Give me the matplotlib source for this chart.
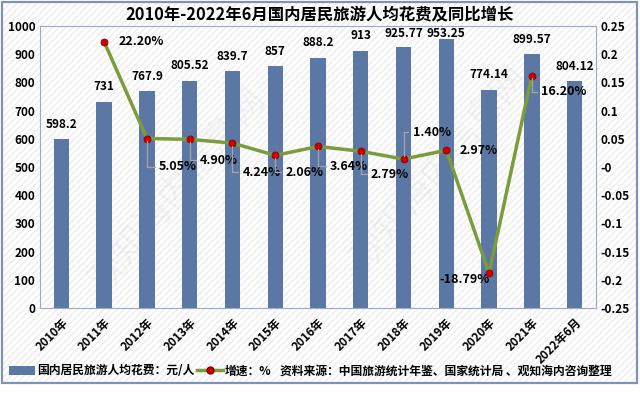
import matplotlib
matplotlib.use("Agg")
from matplotlib import pyplot as plt
from matplotlib.patches import Rectangle, Patch
from matplotlib.lines import Line2D
import numpy as np

plt.rcParams['font.family'] = ['Noto Sans CJK SC', 'DejaVu Sans']
plt.rcParams['axes.unicode_minus'] = False

# data
years = ['2010年', '2011年', '2012年', '2013年', '2014年', '2015年', '2016年',
         '2017年', '2018年', '2019年', '2020年', '2021年', '2022年6月']
spend = [598.2, 731, 767.9, 805.52, 839.7, 857, 888.2, 913, 925.77, 953.25, 774.14, 899.57, 804.12]
spend_labels = ['598.2', '731', '767.9', '805.52', '839.7', '857', '888.2', '913',
                '925.77', '953.25', '774.14', '899.57', '804.12']
growth = [0.222, 0.0505, 0.049, 0.0424, 0.0206, 0.0364, 0.0279, 0.014, 0.0297, -0.1879, 0.162]
growth_labels = ['22.20%', '5.05%', '4.90%', '4.24%', '2.06%', '3.64%', '2.79%',
                 '1.40%', '2.97%', '-18.79%', '16.20%']
# label offsets in pixels (dx, dy) relative to each point, and whether a leader line is drawn
label_offsets = [(14, 0), (12, -28), (10, -21), (10, -29), (10, -17), (12, -20),
                 (10, -23), (9, 27), (13, 0), (-50, -7), (9, -16)]
leader = [False, True, True, True, True, True, True, True, False, False, True]

title = '2010年-2022年6月国内居民旅游人均花费及同比增长'
source = '资料来源：中国旅游统计年鉴、国家统计局 、观知海内咨询整理'

barColor = '#5B78A4'
lineColor = '#7C9B3C'
markerColor = '#D00000'
frameColor = '#9AAAC4'

fig = plt.figure(figsize=(6.4, 3.94), dpi=100)

# outer frame with light diagonal hatching
bg = Rectangle((2 / 640, 1 - 383 / 394), 635 / 640, 381 / 394, transform=fig.transFigure,
               facecolor='white', edgecolor='#ECECEC', hatch='/////', lw=0, zorder=-2)
fig.patches.append(bg)
border = Rectangle((2 / 640, 1 - 383 / 394), 635 / 640, 381 / 394, transform=fig.transFigure,
                   facecolor='none', edgecolor='#8193B5', lw=1.6, zorder=10)
fig.patches.append(border)

ax = fig.add_axes([40 / 640, 1 - 308 / 394, 556 / 640, 282 / 394])
ax.set_facecolor('none')
x = np.arange(len(years))
ax.bar(x, spend, width=0.36, color=barColor, zorder=2)
for xi, v, lab in zip(x, spend, spend_labels):
    # labels sit about 15 px above the bar, kept inside the plot
    ax.text(xi, min(v + 53, 975), lab, ha='center', va='center', fontsize=8.5,
            fontweight='bold', zorder=5)

ax.set_ylim(0, 1000)
ax.set_yticks(np.arange(0, 1001, 100))
ax.set_xlim(-0.5, len(years) - 0.5)
ax.set_xticks(x)
ax.set_xticklabels(years, rotation=45, ha='right', rotation_mode='anchor', fontsize=8.5, fontweight='bold')
ax.tick_params(length=0, labelsize=8.5)
ax.tick_params(axis='x', pad=6)
for lab in ax.get_yticklabels():
    lab.set_fontweight('bold')
for s in ax.spines.values():
    s.set_color(frameColor)
    s.set_linewidth(0.8)

# watermark
for wx, wy in [(0.25, 0.42), (0.72, 0.5)]:
    ax.text(wx, wy, '观知海内信息网', transform=ax.transAxes, rotation=50, fontsize=26,
            color='#BBBBBB', alpha=0.15, ha='center', va='center', zorder=1)

ax2 = ax.twinx()
gx = x[1:12]
ax2.plot(gx, growth, color=lineColor, lw=2.5, zorder=3)
ax2.plot(gx, growth, ls='none', marker='o', ms=5, mfc=markerColor, mec='#8B0000', mew=0.6, zorder=4)
ax2.set_ylim(-0.25, 0.25)
ax2.set_yticks(np.arange(-0.25, 0.2501, 0.05))
ax2.set_yticklabels(['{:g}'.format(round(t, 2)) for t in np.arange(-0.25, 0.2501, 0.05)])
ax2.tick_params(length=0, labelsize=8.5)
for lab in ax2.get_yticklabels():
    lab.set_fontweight('bold')
for s in ax2.spines.values():
    s.set_visible(False)

for xi, g, lab, (dx, dy), ld in zip(gx, growth, growth_labels, label_offsets, leader):
    if ld:
        ax2.annotate(lab, (xi, g), xytext=(dx, dy), textcoords='offset pixels',
                     ha='left', va='center', fontsize=9, fontweight='bold',
                     arrowprops=dict(arrowstyle='-', color='#A6A6A6', lw=0.9, shrinkA=1, shrinkB=2,
                                     connectionstyle='angle,angleA=0,angleB=90,rad=0'),
                     zorder=6)
    else:
        ax2.annotate(lab, (xi, g), xytext=(dx, dy), textcoords='offset pixels',
                     ha='left', va='center', fontsize=9, fontweight='bold', zorder=6)

fig.text(0.5, 1 - 15 / 394, title, ha='center', va='center', fontsize=11.8, fontweight='bold')

handles = [Patch(facecolor=barColor, edgecolor='none'),
           Line2D([], [], color=lineColor, lw=2.5, marker='o', ms=5, mfc=markerColor, mec='#8B0000')]
fig.legend(handles, ['国内居民旅游人均花费：元/人', '增速：%'], loc='center left',
           bbox_to_anchor=(4 / 640, 1 - 371 / 394), ncol=2, frameon=False,
           prop={'size': 8.5, 'weight': 'bold'}, handlelength=2.2, handletextpad=0.2,
           columnspacing=0.2, borderaxespad=0)
fig.text(280 / 640, 1 - 371 / 394, source, ha='left', va='center', fontsize=8.5, fontweight='bold')

fig.savefig('out.png', dpi=100)
